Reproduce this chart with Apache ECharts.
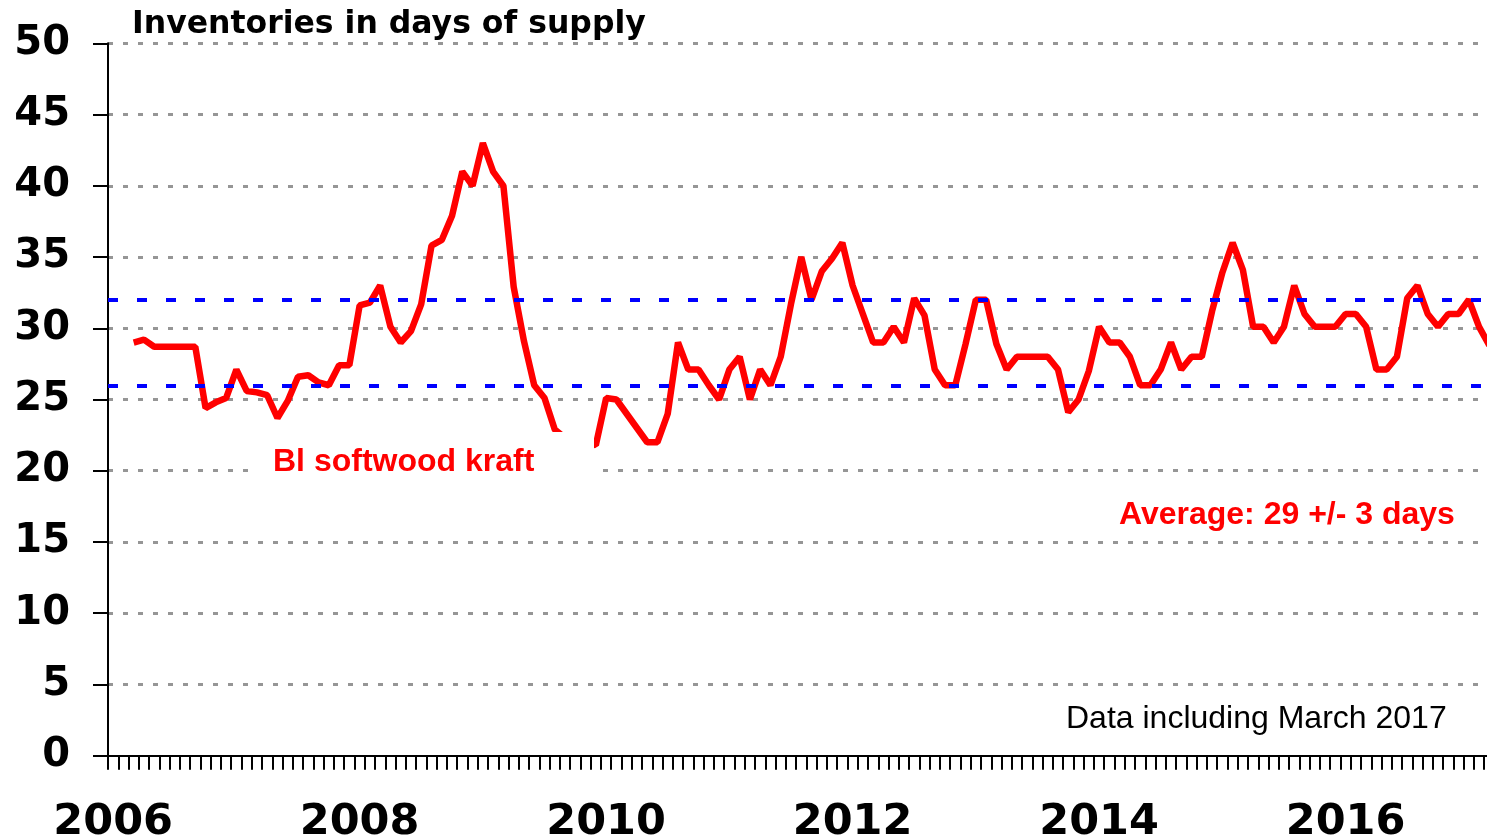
<!DOCTYPE html>
<html>
<head>
<meta charset="utf-8">
<title>Inventories in days of supply</title>
<script src="https://cdn.jsdelivr.net/npm/echarts@6/dist/echarts.min.js"></script>
<style>
  html, body { margin: 0; padding: 0; background: #fff; }
  #chart { width: 1487px; height: 840px; }
</style>
</head>
<body>
<div id="chart"></div>
<script>
// monthly values, Jan 2006 .. Mar 2017 (days of supply)
var inv2006 = [null, null, 29.0, 29.2, 28.7, 28.7, 28.7, 28.7, 28.7, 24.4, 24.8, 25.1];
var inv2007 = [27.1, 25.6, 25.5, 25.3, 23.7, 24.9, 26.6, 26.7, 26.2, 26.0, 27.4, 27.4];
var inv2008 = [31.6, 31.8, 33.0, 30.1, 29.0, 29.8, 31.7, 35.8, 36.2, 37.9, 41.0, 40.0];
var inv2009 = [43.0, 41.0, 40.0, 32.9, 29.1, 26.0, 25.1, 22.9, 22.3, 22.0, 22.0, 21.8];
var inv2010 = [25.1, 25.0, 24.0, 23.0, 22.0, 22.0, 24.0, 29.0, 27.1, 27.1, 26.0, 25.0];
var inv2011 = [27.1, 28.0, 25.0, 27.1, 26.0, 28.0, 31.7, 35.0, 32.0, 34.0, 34.9, 36.0];
var inv2012 = [33.0, 31.0, 29.0, 29.0, 30.1, 29.0, 32.1, 30.9, 27.1, 26.0, 26.0, 28.9];
var inv2013 = [32.0, 32.0, 28.9, 27.1, 28.0, 28.0, 28.0, 28.0, 27.1, 24.1, 25.0, 27.0];
var inv2014 = [30.1, 29.0, 29.0, 28.0, 26.0, 26.0, 27.1, 29.0, 27.1, 28.0, 28.0, 31.2];
var inv2015 = [33.9, 36.0, 34.1, 30.1, 30.1, 29.0, 30.1, 33.0, 31.0, 30.1, 30.1, 30.1];
var inv2016 = [31.0, 31.0, 30.1, 27.1, 27.1, 28.0, 32.1, 33.0, 31.0, 30.1, 31.0, 31.0];
var inv2017 = [32.0, 30.1, 28.8];

// average band (29 +/- 3)
var avgBand = [32, 26];

// y axis ticks
var yMin = 0, yMax = 50, yStep = 5;

var values = [].concat(inv2006, inv2007, inv2008, inv2009, inv2010, inv2011,
  inv2012, inv2013, inv2014, inv2015, inv2016, inv2017);

// month categories "YYYY-MM"
var months = [];
for (var i = 0; i < values.length; i++) {
  var y = 2006 + Math.floor(i / 12);
  var m = (i % 12) + 1;
  months.push(y + '-' + (m < 10 ? '0' + m : m));
}

var myChart = echarts.init(document.getElementById('chart'));

var option = {
  animation: false,
  backgroundColor: '#fff',
  title: {
    text: 'Inventories in days of supply',
    left: 132,
    top: 9,
    padding: 0,
    textStyle: {
      fontFamily: 'DejaVu Sans',
      fontWeight: 'bold',
      fontSize: 31.5,
      color: '#000'
    }
  },
  // plot area runs a few px past the right edge of the picture
  grid: {
    left: 108,
    top: 43.3,
    width: 1386.5,
    height: 712.4,
    outerBoundsMode: 'none',
    containLabel: false
  },
  xAxis: {
    type: 'category',
    data: months,
    boundaryGap: true,
    axisLine: { show: true, onZero: false, lineStyle: { color: '#000', width: 2 } },
    axisTick: {
      show: true,
      interval: 0,
      alignWithLabel: false,
      inside: false,
      length: 14,
      lineStyle: { color: '#000', width: 2 }
    },
    axisLabel: {
      interval: function (index) { return index % 24 === 0; },
      formatter: function (v) { return v.slice(0, 4); },
      fontFamily: 'DejaVu Sans',
      fontWeight: 'bold',
      fontSize: 43,
      color: '#000',
      margin: 46
    },
    splitLine: { show: false }
  },
  yAxis: {
    type: 'value',
    min: yMin,
    max: yMax,
    interval: yStep,
    axisLine: { show: true, lineStyle: { color: '#000', width: 2 } },
    axisTick: { show: true, length: 15, lineStyle: { color: '#000', width: 2 } },
    axisLabel: {
      fontFamily: 'DejaVu Sans',
      fontWeight: 'bold',
      fontSize: 40,
      color: '#000',
      margin: 38,
      padding: [7, 0, 0, 0]
    },
    splitLine: {
      show: true,
      showMinLine: false,
      lineStyle: { color: '#969696', width: 3, type: [5, 10] }
    }
  },
  series: [
    {
      name: 'Bl softwood kraft',
      type: 'line',
      data: values,
      symbol: 'none',
      connectNulls: false,
      lineStyle: { color: '#ff0000', width: 6.5 },
      z: 2
    },
    {
      name: 'Average band',
      type: 'line',
      data: [],
      z: 3,
      markLine: {
        silent: true,
        symbol: 'none',
        label: { show: false },
        lineStyle: { color: '#0000ff', width: 4, type: [10, 19] },
        data: avgBand.map(function (v) { return { yAxis: v }; })
      }
    }
  ],
  graphic: [
    {
      type: 'rect',
      z: 100,
      shape: { x: 255, y: 432, width: 339, height: 66 },
      style: { fill: '#fff' }
    },
    {
      type: 'text',
      z: 101,
      x: 273,
      y: 462,
      style: {
        text: 'Bl softwood kraft',
        font: 'bold 32px "Liberation Sans", Arial, sans-serif',
        fill: '#ff0000',
        align: 'left', textAlign: 'left',
        verticalAlign: 'middle', textVerticalAlign: 'middle'
      }
    },
    {
      type: 'text',
      z: 101,
      x: 1119,
      y: 515,
      style: {
        text: 'Average: 29 +/- 3 days',
        font: 'bold 32px "Liberation Sans", Arial, sans-serif',
        fill: '#ff0000',
        align: 'left', textAlign: 'left',
        verticalAlign: 'middle', textVerticalAlign: 'middle'
      }
    },
    {
      type: 'text',
      z: 101,
      x: 1066,
      y: 719,
      style: {
        text: 'Data including March 2017',
        font: '32px "Liberation Sans", Arial, sans-serif',
        fill: '#000',
        align: 'left', textAlign: 'left',
        verticalAlign: 'middle', textVerticalAlign: 'middle'
      }
    }
  ]
};

myChart.setOption(option);
</script>
</body>
</html>
